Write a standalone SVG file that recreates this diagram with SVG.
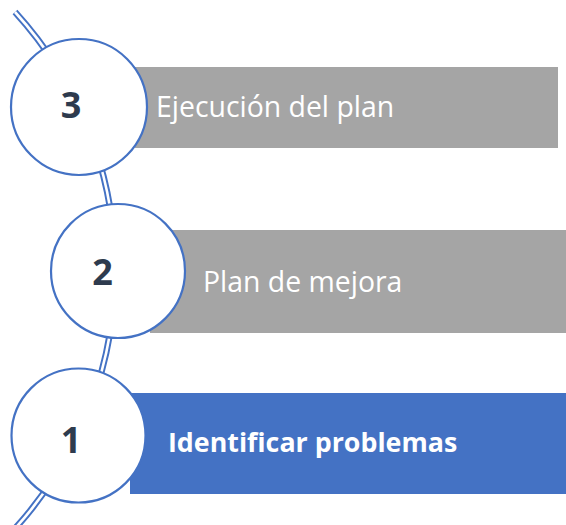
<svg xmlns="http://www.w3.org/2000/svg" width="566" height="525" viewBox="0 0 566 525">
<style>
.circ{fill:#fff;stroke:#4472C4;stroke-width:2.2}
.num{font-family:"Open Sans","Liberation Sans",sans-serif;font-weight:bold;font-size:36px;fill:#2E3B4E;text-anchor:middle}
.lbl{font-family:"Open Sans","Liberation Sans",sans-serif;font-size:28.4px;fill:#fff}
.lblb{font-family:"Open Sans","Liberation Sans",sans-serif;font-size:26.8px;font-weight:bold;fill:#fff}
</style>
<rect width="566" height="525" fill="#fff"/>
<g id="connectors">
<path d="M 15 12 A 383 383 0 0 1 4 540" fill="none" stroke="#4472C4" stroke-width="6.5"/>
<path d="M 15 12 A 383 383 0 0 1 4 540" fill="none" stroke="#fff" stroke-width="2.6"/>
</g>
<g id="step3">
<rect x="135" y="67" width="423" height="81" fill="#A5A5A5"/>
<circle class="circ" cx="79" cy="107" r="68"/>
<text class="num" x="71" y="118">3</text>
<text class="lbl" x="156" y="117">Ejecución del plan</text>
</g>
<g id="step2">
<rect x="150" y="230" width="416" height="103" fill="#A5A5A5"/>
<circle class="circ" cx="118" cy="271" r="67"/>
<text class="num" x="102.5" y="285">2</text>
<text class="lbl" x="203" y="292">Plan de mejora</text>
</g>
<g id="step1">
<rect x="130" y="393" width="436" height="101" fill="#4472C4"/>
<circle class="circ" cx="78.5" cy="435.5" r="67"/>
<text class="num" x="71" y="453">1</text>
<text class="lblb" x="168" y="452">Identificar problemas</text>
</g>
</svg>
